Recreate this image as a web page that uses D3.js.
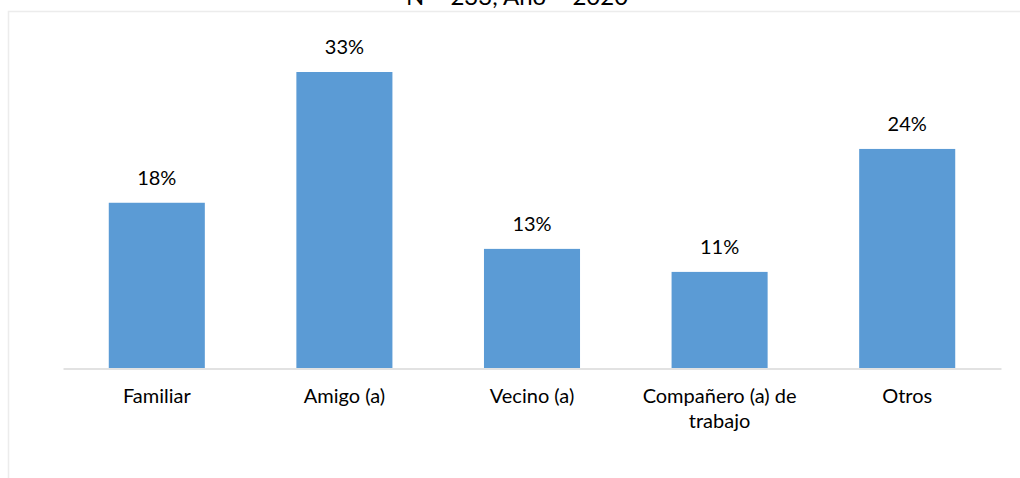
<!DOCTYPE html>
<html>
<head>
<meta charset="utf-8">
<script src="https://cdn.jsdelivr.net/npm/d3@7"></script>
<style>
  html, body { margin: 0; padding: 0; background: #fff; }
  svg { display: block; }
  text { font-family: Lato, "Open Sans", sans-serif; fill: #000; }
</style>
</head>
<body>
<div id="chart"></div>
<script>
const categories = ["Familiar", "Amigo (a)", "Vecino (a)", "Compañero (a) de trabajo", "Otros"];
const categoryLines = [["Familiar"], ["Amigo (a)"], ["Vecino (a)"], ["Compañero (a) de", "trabajo"], ["Otros"]];
const values = [18.45, 33.05, 13.30, 10.73, 24.46];
const valueLabels = ["18%", "33%", "13%", "11%", "24%"];
const titleText = "N = 233, Año = 2020";

const W = 1020, H = 478;
const svg = d3.select("#chart").append("svg").attr("width", W).attr("height", H);

// chart area border (faint)
svg.append("path")
  .attr("d", "M8.5,478 L8.5,11.5 L1020,11.5")
  .attr("fill", "none").attr("stroke", "#ececec").attr("stroke-width", 1.5);

svg.append("text")
  .attr("x", 517).attr("y", 5)
  .attr("text-anchor", "middle")
  .attr("font-size", 24)
  .text(titleText);

const x = d3.scaleBand().domain(categories).range([63, 1001]).paddingInner(0.488).paddingOuter(0.244);
const y = d3.scaleLinear().domain([0, 35]).range([368, 368 - 35 * 8.956]);

const data = categories.map((c, i) => ({ c, v: values[i], label: valueLabels[i], lines: categoryLines[i] }));

svg.append("g").selectAll("rect").data(data).join("rect")
  .attr("x", d => x(d.c))
  .attr("y", d => y(d.v))
  .attr("width", x.bandwidth())
  .attr("height", d => y(0) - y(d.v))
  .attr("fill", "#5b9bd5");

svg.append("g").selectAll("text").data(data).join("text")
  .attr("x", d => x(d.c) + x.bandwidth() / 2)
  .attr("y", d => y(d.v) - 18)
  .attr("text-anchor", "middle")
  .attr("font-size", 20)
  .text(d => d.label);

// axis
const axis = svg.append("g").attr("transform", "translate(0,368.5)")
  .call(d3.axisBottom(x).tickSize(0).tickFormat(""));
axis.select(".domain").attr("stroke", "#d9d9d9").attr("stroke-width", 1.5);

const labels = svg.append("g").selectAll("text").data(data).join("text")
  .attr("x", d => x(d.c) + x.bandwidth() / 2)
  .attr("y", 403)
  .attr("text-anchor", "middle")
  .attr("font-size", 20);
labels.selectAll("tspan").data(d => d.lines.map(l => ({ l, cx: x(d.c) + x.bandwidth() / 2 }))).join("tspan")
  .attr("x", t => t.cx)
  .attr("dy", (t, i) => i === 0 ? 0 : 25)
  .text(t => t.l);
</script>
</body>
</html>
